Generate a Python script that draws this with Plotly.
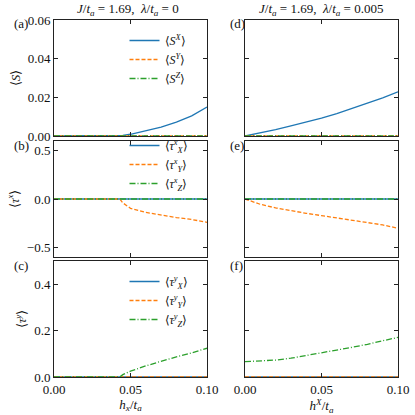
import plotly.graph_objects as go
from plotly.subplots import make_subplots

# left column: lambda/t_a = 0
hx_left = [0.0, 0.043, 0.045, 0.05, 0.06, 0.07, 0.08, 0.09, 0.10]
sx_left = [0.0, 0.0, 0.0003, 0.0009, 0.0026, 0.0046, 0.0072, 0.0104, 0.0150]
taux_y_left = [0.0, 0.0, -0.04, -0.096, -0.138, -0.167, -0.192, -0.212, -0.241]
tauy_z_left = [0.0, 0.0, 0.010, 0.025, 0.048, 0.069, 0.087, 0.104, 0.124]

# right column: lambda/t_a = 0.005
hx_right = [0.0, 0.01, 0.02, 0.03, 0.04, 0.05, 0.06, 0.07, 0.08, 0.09, 0.10]
sx_right = [0.0, 0.0015, 0.0033, 0.0052, 0.0071, 0.0092, 0.0116, 0.0142, 0.0168, 0.0197, 0.0229]
taux_y_right = [0.0, -0.055, -0.092, -0.122, -0.148, -0.172, -0.196, -0.219, -0.242, -0.268, -0.303]
tauy_z_right = [0.066, 0.068, 0.073, 0.081, 0.092, 0.104, 0.115, 0.128, 0.141, 0.156, 0.171]

x_ticks = [0.0, 0.05, 0.10]
x_ticklabels = ["0.00", "0.05", "0.10"]

BLUE, ORANGE, GREEN = "#1f77b4", "#ff7f0e", "#2ca02c"
FONT = "Liberation Serif, Times New Roman, Times, serif"

fig = make_subplots(rows=3, cols=2)

def add_three(row, col, xs, vals, names, legend):
    styles = [(BLUE, "solid"), (ORANGE, "4px,2px"), (GREEN, "6px,2px,1px,2px")]
    for (color, dash), v, name in zip(styles, vals, names):
        fig.add_trace(go.Scatter(
            x=xs, y=v, mode="lines", name=name,
            line=dict(color=color, dash=dash, width=1.3),
            showlegend=legend is not None, legend=legend or "legend",
            hoverinfo="skip",
        ), row=row, col=col)

zl = [0.0] * len(hx_left)
zr = [0.0] * len(hx_right)

s_names = ["⟨<i>S</i><sup><i>X</i></sup>⟩", "⟨<i>S</i><sup><i>Y</i></sup>⟩", "⟨<i>S</i><sup><i>Z</i></sup>⟩"]
tx_names = ["⟨<i>τ</i><sup><i>x</i></sup><sub><i>X</i></sub>⟩",
            "⟨<i>τ</i><sup><i>x</i></sup><sub><i>Y</i></sub>⟩",
            "⟨<i>τ</i><sup><i>x</i></sup><sub><i>Z</i></sub>⟩"]
ty_names = ["⟨<i>τ</i><sup><i>y</i></sup><sub><i>X</i></sub>⟩",
            "⟨<i>τ</i><sup><i>y</i></sup><sub><i>Y</i></sub>⟩",
            "⟨<i>τ</i><sup><i>y</i></sup><sub><i>Z</i></sub>⟩"]

add_three(1, 1, hx_left, [sx_left, zl, zl], s_names, "legend")
add_three(2, 1, hx_left, [zl, taux_y_left, zl], tx_names, "legend2")
add_three(3, 1, hx_left, [zl, zl, tauy_z_left], ty_names, "legend3")
add_three(1, 2, hx_right, [sx_right, zr, zr], s_names, None)
add_three(2, 2, hx_right, [zr, taux_y_right, zr], tx_names, None)
add_three(3, 2, hx_right, [zr, zr, tauy_z_right], ty_names, None)

xdom = [[54 / 415, 207 / 415], [245 / 415, 398 / 415]]
ydom = [[1 - 136 / 415, 1 - 20 / 415], [1 - 257 / 415, 1 - 141 / 415], [1 - 377 / 415, 1 - 261 / 415]]
yranges = [[0, 0.06], [-0.6, 0.6], [0, 0.5]]
yticks = [[0, 0.02, 0.04, 0.06], [-0.5, 0.0, 0.5], [0, 0.2, 0.4]]
yticktext = [["0.00", "0.02", "0.04", "0.06"], ["−0.5", "0.0", "0.5"], ["0.0", "0.2", "0.4"]]
ytitles = ["⟨<i>S</i>⟩", "⟨<i>τ</i><sup><i>x</i></sup>⟩", "⟨<i>τ</i><sup><i>y</i></sup>⟩"]

axis_style = dict(showline=True, linecolor="#222", linewidth=1, mirror="ticks",
                  ticks="inside", ticklen=4, tickcolor="#222", showgrid=False,
                  zeroline=False, automargin=False,
                  tickfont=dict(family=FONT, size=13, color="#111"))

for r in range(3):
    for c in range(2):
        fig.update_xaxes(domain=xdom[c], range=[0, 0.1], tickvals=x_ticks,
                         ticktext=x_ticklabels, showticklabels=(r == 2),
                         row=r + 1, col=c + 1, **axis_style)
        fig.update_yaxes(domain=ydom[r], range=yranges[r], tickvals=yticks[r],
                         ticktext=yticktext[r], showticklabels=(c == 0),
                         row=r + 1, col=c + 1, **axis_style)
    fig.update_yaxes(title=dict(text=ytitles[r], font=dict(family=FONT, size=13), standoff=4),
                     row=r + 1, col=1)

fig.update_xaxes(title=dict(text="<i>h</i><sub><i>x</i></sub>/<i>t</i><sub><i>a</i></sub>",
                            font=dict(family=FONT, size=13), standoff=0), row=3, col=1)
fig.update_xaxes(title=dict(text="<i>h</i><sup><i>X</i></sup>/<i>t</i><sub><i>a</i></sub>",
                            font=dict(family=FONT, size=13), standoff=0), row=3, col=2)

legend_style = dict(bgcolor="rgba(0,0,0,0)", font=dict(family=FONT, size=12),
                    xanchor="left", yanchor="top", tracegroupgap=0, itemwidth=30)
fig.update_layout(
    legend=dict(x=0.30, y=1 - 26 / 415, **legend_style),
    legend2=dict(x=0.30, y=1 - 131 / 415, **legend_style),
    legend3=dict(x=0.30, y=1 - 267 / 415, **legend_style),
)

titles = [("<i>J</i>/<i>t</i><sub><i>a</i></sub> = 1.69,  <i>λ</i>/<i>t</i><sub><i>a</i></sub> = 0", 128 / 415),
          ("<i>J</i>/<i>t</i><sub><i>a</i></sub> = 1.69,  <i>λ</i>/<i>t</i><sub><i>a</i></sub> = 0.005", 321 / 415)]
for text, xc in titles:
    fig.add_annotation(text=text, x=xc, y=1 - 10 / 415, xref="paper", yref="paper",
                       xanchor="center", yanchor="middle",
                       showarrow=False, font=dict(family=FONT, size=13, color="#111"))

labels = [("(a)", 12, 23), ("(b)", 12, 145), ("(c)", 12, 265),
          ("(d)", 228, 23), ("(e)", 228, 145), ("(f)", 228, 265)]
for text, px, py in labels:
    fig.add_annotation(text=text, x=px / 415, y=1 - py / 415, xref="paper", yref="paper",
                       xanchor="left", yanchor="middle", showarrow=False,
                       font=dict(family=FONT, size=13, color="#111"))

fig.update_layout(width=415, height=415, margin=dict(l=0, r=0, t=0, b=0),
                  font=dict(family=FONT, color="#111"),
                  plot_bgcolor="white", paper_bgcolor="white", showlegend=True)

fig.write_html("out.html", config={"displayModeBar": False},
               post_script="document.body.style.margin='0';document.body.style.overflow='hidden';")
